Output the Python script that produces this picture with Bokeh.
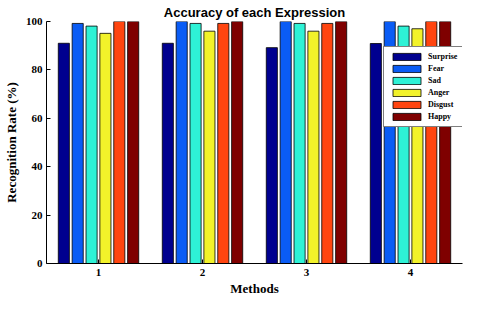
from bokeh.plotting import figure
from bokeh.models import ColumnDataSource, Range1d, FixedTicker, Legend, LegendItem, Title
from bokeh.transform import dodge
from bokeh.embed import file_html
from bokeh.resources import INLINE

methods = [1, 2, 3, 4]
expressions = ["Surprise", "Fear", "Sad", "Anger", "Disgust", "Happy"]
surprise = [91.0, 91.0, 89.2, 90.9]
fear = [99.2, 100.0, 100.0, 100.0]
sad = [98.1, 99.2, 99.2, 98.1]
anger = [95.1, 96.0, 96.0, 97.0]
disgust = [100.0, 99.2, 99.2, 100.0]
happy = [100.0, 100.0, 100.0, 100.0]
colors = ["#00008F", "#0A5CF5", "#2EF2D6", "#F2F22A", "#FF4510", "#7F0000"]
y_ticks = [0, 20, 40, 60, 80, 100]
x_label = "Methods"
y_label = "Recognition Rate (%)"

series = [surprise, fear, sad, anger, disgust, happy]
data = {"x": methods}
for name, vals in zip(expressions, series):
    data[name] = vals
src = ColumnDataSource(data)

p = figure(width=464, height=295, output_backend="svg", toolbar_location=None,
           x_range=Range1d(0.5, 4.5), y_range=Range1d(0, 100),
           min_border_left=35, min_border_right=2, min_border_top=0, min_border_bottom=0,
           title="Accuracy of each Expression")
p.title.text_font = "Liberation Sans"
p.title.text_font_size = "13px"
p.title.text_font_style = "bold"
p.title.text_color = "black"
p.title.align = "center"
p.title.offset = 0
p.title.standoff = 4
p.outline_line_color = None
p.grid.visible = False
p.background_fill_color = "white"
p.border_fill_color = "white"

step = 0.8 / 6
renderers = []
for i, (name, col) in enumerate(zip(expressions, colors)):
    off = (i - 2.5) * step
    r = p.vbar(x=dodge("x", off), top=name, width=step * 0.8, bottom=0, source=src,
               fill_color=col, line_color="black", line_width=0.8)
    renderers.append(r)

for ax in (p.xaxis[0], p.yaxis[0]):
    ax.major_tick_in = 4
    ax.major_tick_out = 0
    ax.minor_tick_line_color = None
    ax.axis_line_color = "black"
    ax.major_tick_line_color = "black"
    ax.major_label_text_font = "Liberation Serif"
    ax.major_label_text_font_style = "bold"
    ax.major_label_text_font_size = "11px"
    ax.axis_label_text_font = "Liberation Serif"
    ax.axis_label_text_font_style = "bold"
    ax.axis_label_text_font_size = "13px"
    ax.major_label_text_color = "black"
    ax.axis_label_text_color = "black"

p.xaxis.ticker = FixedTicker(ticks=methods)
p.yaxis.ticker = FixedTicker(ticks=y_ticks)
p.yaxis.axis_label = y_label
p.xaxis.major_label_standoff = 5
p.yaxis.major_label_standoff = 4
p.yaxis.axis_label_standoff = 4

xt = Title(text=x_label, align="center", text_font="Liberation Serif", text_font_size="13px",
           text_font_style="bold", text_color="black", offset=0, standoff=0)
p.add_layout(xt, "below")

items = [LegendItem(label=n, renderers=[r]) for n, r in zip(expressions, renderers)]
legend = Legend(items=items, location=(337, 136))
legend.glyph_width = 35
legend.glyph_height = 9
legend.label_height = 9
legend.label_standoff = 4
legend.spacing = 3
legend.padding = 5
legend.margin = 0
legend.label_text_font = "Liberation Serif"
legend.label_text_font_style = "bold"
legend.label_text_font_size = "8px"
legend.label_text_color = "black"
legend.border_line_color = "black"
legend.border_line_width = 1
legend.background_fill_alpha = 1
p.add_layout(legend, "center")

open("out.html", "w").write(file_html(p, INLINE))
